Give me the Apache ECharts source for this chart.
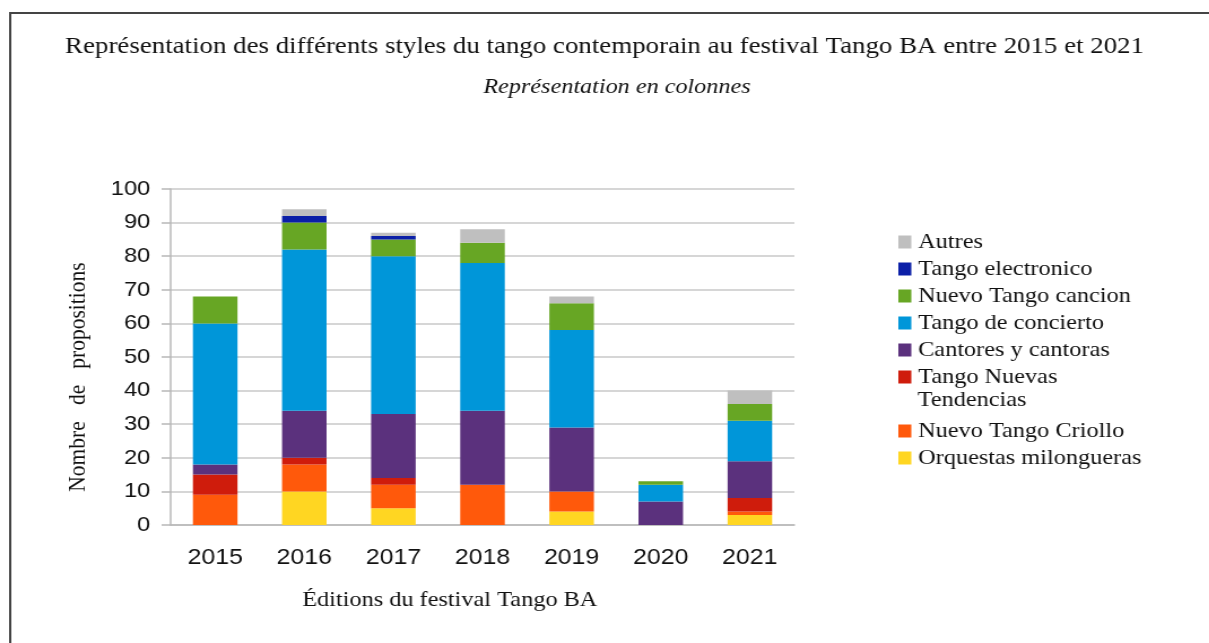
<!DOCTYPE html>
<html>
<head>
<meta charset="utf-8">
<title>Tango BA</title>
<script src="https://cdn.jsdelivr.net/npm/echarts@6/dist/echarts.min.js"></script>
<style>
	html, body { margin: 0; padding: 0; background: #fff; overflow: hidden; }
	/* la figure d'origine est un peu étirée en largeur */
	#chart { width: 1070px; height: 643px; transform: scaleX(1.13); transform-origin: 0 0; }
</style>
</head>
<body>
<div id="chart"></div>
<script>
// éditions du festival
var years = ['2015', '2016', '2017', '2018', '2019', '2020', '2021'];
// graduations de l'axe vertical
var yTicks = [0, 10, 20, 30, 40, 50, 60, 70, 80, 90, 100];

// nombre de propositions par style (du bas vers le haut de la pile)
var orquestas   = [0, 10, 5, 0, 4, 0, 3];
var criollo     = [9, 8, 7, 12, 6, 0, 1];
var tendencias  = [6, 2, 2, 0, 0, 0, 4];
var cantores    = [3, 14, 19, 22, 19, 7, 11];
var concierto   = [42, 48, 47, 44, 29, 5, 12];
var cancion     = [8, 8, 5, 6, 8, 1, 5];
var electronico = [0, 2, 1, 0, 0, 0, 0];
var autres      = [0, 2, 1, 4, 2, 0, 4];

var styleNames = ['Orquestas milongueras', 'Nuevo Tango Criollo', 'Tango Nuevas Tendencias',
	'Cantores y cantoras', 'Tango de concierto', 'Nuevo Tango cancion', 'Tango electronico', 'Autres'];
var styleData = [orquestas, criollo, tendencias, cantores, concierto, cancion, electronico, autres];
var styleColors = ['#ffd622', '#ff590b', '#cf1c0c', '#5b317d', '#0096d9', '#67a624', '#0b1fa7', '#bfbfbf'];

var serif = '"Liberation Serif", "DejaVu Serif", serif';
var sans = '"Liberation Sans", Arial, sans-serif';

var series = [];
for (var i = 0; i < styleNames.length; i++) {
	series.push({
		name : styleNames[i],
		type : 'bar',
		stack : 'total',
		barWidth : '50%',
		itemStyle : { color : styleColors[i] },
		data : styleData[i]
	});
}

// légende : ordre inverse de la pile
var legendNames = styleNames.slice().reverse();
var legendStyle = { fontFamily : serif, fontSize : 21.5, lineHeight : 26, color : '#111', padding : [0, 0, 0, 1] };
function makeLegend(names, top) {
	return {
		orient : 'vertical',
		left : 790,
		top : top,
		itemWidth : 11.5,
		itemHeight : 13,
		itemGap : 1,
		icon : 'rect',
		selectedMode : false,
		data : names,
		formatter : function(name) {
			// le libellé sur deux lignes est complété plus bas
			return name == 'Tango Nuevas Tendencias' ? 'Tango Nuevas' : name;
		},
		textStyle : legendStyle
	};
}

var myChart = echarts.init(document.getElementById('chart'));
myChart.setOption({
	animation : false,
	backgroundColor : '#fff',
	title : [{
		text : 'Représentation des différents styles du tango contemporain au festival Tango BA entre 2015 et 2021',
		left : 530,
		textAlign : 'center',
		top : 30,
		textStyle : { fontFamily : serif, fontSize : 23.8, fontWeight : 'normal', color : '#111' }
	}, {
		text : 'Représentation en colonnes',
		left : 541,
		textAlign : 'center',
		top : 72,
		textStyle : { fontFamily : serif, fontSize : 21.4, fontStyle : 'italic', fontWeight : 'normal', color : '#111' }
	}],
	legend : [makeLegend(legendNames.slice(0, 6), 224), makeLegend(legendNames.slice(6), 413)],
	grid : { left : 151, right : 367, top : 189, bottom : 118 },
	xAxis : {
		type : 'category',
		data : years,
		axisLine : { lineStyle : { color : '#b8b8b8', width : 1.5 } },
		axisTick : { length : 9, lineStyle : { color : '#b8b8b8', width : 1.5 } },
		axisLabel : { fontFamily : sans, fontSize : 22, color : '#111', margin : 22 }
	},
	yAxis : {
		type : 'value',
		min : yTicks[0],
		max : yTicks[yTicks.length - 1],
		interval : yTicks[1] - yTicks[0],
		axisLine : { show : true, lineStyle : { color : '#b8b8b8', width : 1.5 } },
		axisTick : { show : true, length : 8, lineStyle : { color : '#b8b8b8', width : 1.5 } },
		splitLine : { lineStyle : { color : '#c8c8c8', width : 1.5 } },
		axisLabel : { fontFamily : sans, fontSize : 21, color : '#111', margin : 18 }
	},
	graphic : [
		// cadre du document (haut et gauche)
		{ type : 'polyline', shape : { points : [[9, 643], [9, 13], [1070, 13]] },
			style : { stroke : '#444', lineWidth : 2, fill : null } },
		// deuxième ligne du libellé "Tango Nuevas Tendencias"
		{ type : 'text', x : 812, y : 400,
			style : { text : 'Tendencias', fontFamily : serif, fontSize : 21.5, fill : '#111',
				align : 'left', verticalAlign : 'middle' } },
		// titre de l'axe vertical
		{ type : 'text', x : 69, y : 377, rotation : Math.PI / 2,
			style : { text : 'Nombre   de   propositions', fontFamily : serif, fontSize : 21.5, fill : '#111',
				align : 'center', verticalAlign : 'middle' } },
		// titre de l'axe horizontal
		{ type : 'text', x : 398, y : 600,
			style : { text : 'Éditions du festival Tango BA', fontFamily : serif, fontSize : 21.5, fill : '#111',
				align : 'center', verticalAlign : 'middle' } }
	],
	series : series
});
</script>
</body>
</html>
